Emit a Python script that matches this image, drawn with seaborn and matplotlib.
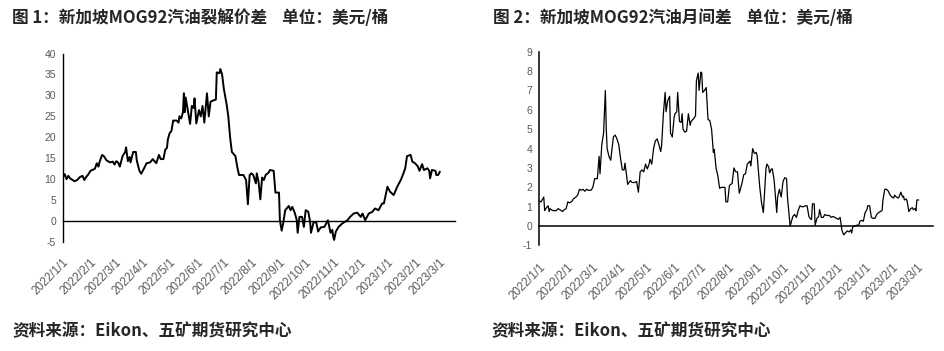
import matplotlib
matplotlib.use('Agg')
import matplotlib.pyplot as plt
import seaborn as sns
import pandas as pd

# ---------------- data ----------------
crack_dates = [
    '2022-01-01', '2022-01-03', '2022-01-05', '2022-01-07', '2022-01-09', '2022-01-14', '2022-01-17',
    '2022-01-20', '2022-01-23', '2022-01-25', '2022-01-27', '2022-01-29', '2022-02-01', '2022-02-06',
    '2022-02-08', '2022-02-10', '2022-02-11', '2022-02-14', '2022-02-16', '2022-02-19', '2022-02-23',
    '2022-02-26', '2022-02-28', '2022-03-02', '2022-03-04', '2022-03-06', '2022-03-09', '2022-03-12',
    '2022-03-13', '2022-03-15', '2022-03-17', '2022-03-18', '2022-03-21', '2022-03-24', '2022-03-25',
    '2022-03-28', '2022-03-30', '2022-04-02', '2022-04-05', '2022-04-09', '2022-04-12', '2022-04-16',
    '2022-04-19', '2022-04-21', '2022-04-24', '2022-04-26', '2022-04-28', '2022-04-29', '2022-05-01',
    '2022-05-03', '2022-05-05', '2022-05-09', '2022-05-11', '2022-05-12', '2022-05-14', '2022-05-16',
    '2022-05-17', '2022-05-18', '2022-05-19', '2022-05-21', '2022-05-24', '2022-05-26', '2022-05-28',
    '2022-05-29', '2022-05-31', '2022-06-03', '2022-06-05', '2022-06-07', '2022-06-09', '2022-06-11',
    '2022-06-12', '2022-06-14', '2022-06-16', '2022-06-19', '2022-06-22', '2022-06-23', '2022-06-26',
    '2022-06-27', '2022-06-29', '2022-07-01', '2022-07-04', '2022-07-06', '2022-07-08', '2022-07-10',
    '2022-07-14', '2022-07-16', '2022-07-18', '2022-07-23', '2022-07-26', '2022-07-28', '2022-07-30',
    '2022-08-01', '2022-08-03', '2022-08-06', '2022-08-07', '2022-08-09', '2022-08-11', '2022-08-13',
    '2022-08-15', '2022-08-17', '2022-08-20', '2022-08-22', '2022-08-26', '2022-08-28', '2022-09-01',
    '2022-09-02', '2022-09-04', '2022-09-06', '2022-09-08', '2022-09-12', '2022-09-14', '2022-09-16',
    '2022-09-19', '2022-09-21', '2022-09-22', '2022-09-24', '2022-09-27', '2022-09-29', '2022-10-01',
    '2022-10-04', '2022-10-06', '2022-10-07', '2022-10-10', '2022-10-13', '2022-10-15', '2022-10-18',
    '2022-10-22', '2022-10-26', '2022-10-29', '2022-10-31', '2022-11-01', '2022-11-02', '2022-11-04',
    '2022-11-07', '2022-11-11', '2022-11-17', '2022-11-20', '2022-11-24', '2022-11-28', '2022-12-02',
    '2022-12-04', '2022-12-07', '2022-12-11', '2022-12-15', '2022-12-18', '2022-12-22', '2022-12-26',
    '2022-12-28', '2023-01-01', '2023-01-04', '2023-01-08', '2023-01-12', '2023-01-16', '2023-01-19',
    '2023-01-21', '2023-01-23', '2023-01-27', '2023-01-29', '2023-02-01', '2023-02-04', '2023-02-06',
    '2023-02-09', '2023-02-11', '2023-02-15', '2023-02-17', '2023-02-18', '2023-02-20', '2023-02-24',
    '2023-02-25', '2023-02-27', '2023-03-01',
]
crack_values = [
    10.5, 11.2, 10.0, 10.8, 10.2, 9.5, 9.8,
    10.5, 10.8, 9.8, 10.5, 11.0, 12.0, 12.5,
    13.8, 13.0, 14.0, 15.8, 15.5, 14.5, 14.0,
    14.2, 13.5, 14.3, 14.0, 13.0, 15.5, 16.5,
    17.6, 14.3, 15.3, 14.0, 16.5, 16.5, 14.5,
    12.0, 11.3, 12.5, 13.8, 14.0, 14.8, 13.8,
    15.8, 14.8, 14.8, 17.0, 17.5, 19.5, 21.0,
    21.5, 24.0, 24.0, 23.5, 25.0, 24.5, 26.0,
    30.5, 26.0, 29.5, 27.0, 23.2, 27.5, 27.0,
    29.3, 23.3, 26.5, 25.0, 27.5, 23.5, 28.0,
    30.5, 25.0, 28.5, 28.8, 29.0, 35.5, 35.3,
    36.3, 35.0, 31.5, 28.0, 25.0, 20.0, 16.5,
    15.5, 13.0, 11.0, 11.0, 9.8, 4.0, 11.0,
    11.4, 11.0, 9.0, 11.4, 9.4, 5.2, 10.4,
    9.8, 11.0, 11.5, 12.2, 12.0, 6.8, 6.8,
    0.2, -2.3, -0.2, 2.6, 3.6, 2.6, 3.4,
    1.8, 0.2, -2.8, 1.0, 1.0, -1.4, 2.6,
    2.2, -0.2, -2.8, -0.2, -0.4, -2.5, -1.5,
    -1.4, 0.2, -2.8, -2.1, -3.7, -4.5, -2.5,
    -1.4, -0.6, 0.2, 1.0, 1.8, 2.0, 1.0,
    1.8, 0.2, 1.8, 2.2, 3.0, 2.6, 4.2,
    4.2, 8.2, 7.0, 6.2, 8.2, 9.8, 11.4,
    12.6, 15.5, 15.8, 14.2, 13.8, 13.1, 12.0,
    13.6, 12.2, 12.6, 12.0, 10.2, 12.2, 12.0,
    11.0, 11.0, 11.8,
]

spread_dates = [
    '2022-01-01', '2022-01-03', '2022-01-06', '2022-01-07', '2022-01-09', '2022-01-11', '2022-01-12',
    '2022-01-13', '2022-01-16', '2022-01-20', '2022-01-22', '2022-01-24', '2022-01-27', '2022-01-29',
    '2022-01-31', '2022-02-02', '2022-02-04', '2022-02-07', '2022-02-08', '2022-02-11', '2022-02-13',
    '2022-02-15', '2022-02-17', '2022-02-19', '2022-02-21', '2022-02-23', '2022-02-25', '2022-02-28',
    '2022-03-02', '2022-03-04', '2022-03-07', '2022-03-09', '2022-03-10', '2022-03-12', '2022-03-14',
    '2022-03-16', '2022-03-17', '2022-03-18', '2022-03-20', '2022-03-22', '2022-03-25', '2022-03-27',
    '2022-03-29', '2022-03-31', '2022-04-02', '2022-04-04', '2022-04-06', '2022-04-07', '2022-04-08',
    '2022-04-10', '2022-04-13', '2022-04-15', '2022-04-18', '2022-04-20', '2022-04-22', '2022-04-24',
    '2022-04-26', '2022-04-28', '2022-04-30', '2022-05-02', '2022-05-04', '2022-05-05', '2022-05-07',
    '2022-05-09', '2022-05-11', '2022-05-13', '2022-05-15', '2022-05-17', '2022-05-18', '2022-05-20',
    '2022-05-22', '2022-05-23', '2022-05-25', '2022-05-27', '2022-05-28', '2022-05-30', '2022-06-01',
    '2022-06-02', '2022-06-04', '2022-06-05', '2022-06-07', '2022-06-09', '2022-06-10', '2022-06-11',
    '2022-06-13', '2022-06-15', '2022-06-17', '2022-06-19', '2022-06-20', '2022-06-23', '2022-06-25',
    '2022-06-26', '2022-06-28', '2022-06-29', '2022-07-01', '2022-07-02', '2022-07-03', '2022-07-05',
    '2022-07-07', '2022-07-09', '2022-07-11', '2022-07-13', '2022-07-15', '2022-07-16', '2022-07-18',
    '2022-07-20', '2022-07-22', '2022-07-24', '2022-07-28', '2022-07-29', '2022-07-31', '2022-08-02',
    '2022-08-05', '2022-08-07', '2022-08-09', '2022-08-11', '2022-08-13', '2022-08-16', '2022-08-18',
    '2022-08-20', '2022-08-22', '2022-08-25', '2022-08-26', '2022-08-28', '2022-08-30', '2022-09-01',
    '2022-09-02', '2022-09-05', '2022-09-07', '2022-09-09', '2022-09-12', '2022-09-13', '2022-09-15',
    '2022-09-16', '2022-09-18', '2022-09-19', '2022-09-21', '2022-09-24', '2022-09-25', '2022-09-27',
    '2022-09-29', '2022-10-01', '2022-10-03', '2022-10-05', '2022-10-06', '2022-10-09', '2022-10-12',
    '2022-10-14', '2022-10-16', '2022-10-18', '2022-10-20', '2022-10-22', '2022-10-24', '2022-10-26',
    '2022-10-28', '2022-10-30', '2022-11-01', '2022-11-02', '2022-11-03', '2022-11-05', '2022-11-06',
    '2022-11-08', '2022-11-10', '2022-11-11', '2022-11-13', '2022-11-15', '2022-11-17', '2022-11-19',
    '2022-11-20', '2022-11-22', '2022-11-24', '2022-11-26', '2022-11-28', '2022-11-30', '2022-12-02',
    '2022-12-04', '2022-12-06', '2022-12-08', '2022-12-10', '2022-12-12', '2022-12-14', '2022-12-16',
    '2022-12-17', '2022-12-18', '2022-12-20', '2022-12-23', '2022-12-25', '2022-12-26', '2022-12-28',
    '2022-12-30', '2023-01-01', '2023-01-03', '2023-01-04', '2023-01-06', '2023-01-08', '2023-01-10',
    '2023-01-12', '2023-01-14', '2023-01-16', '2023-01-18', '2023-01-20', '2023-01-21', '2023-01-23',
    '2023-01-25', '2023-01-27', '2023-01-29', '2023-01-31', '2023-02-02', '2023-02-03', '2023-02-05',
    '2023-02-07', '2023-02-08', '2023-02-10', '2023-02-12', '2023-02-13', '2023-02-14', '2023-02-16',
    '2023-02-17', '2023-02-19', '2023-02-21', '2023-02-23', '2023-02-24', '2023-02-26', '2023-02-27',
    '2023-02-28', '2023-03-02',
]
spread_values = [
    1.3, 1.25, 1.5, 0.8, 0.95, 1.05, 0.75,
    0.9, 0.8, 0.8, 0.9, 0.85, 0.75, 0.85,
    0.9, 1.25, 1.2, 1.3, 1.4, 1.5, 1.6,
    1.9, 1.85, 1.9, 1.8, 1.9, 1.85, 1.85,
    2.0, 2.45, 2.45, 3.6, 2.7, 4.2, 4.8,
    7.0, 5.0, 4.0, 3.6, 3.4, 4.6, 4.7,
    4.5, 4.2, 3.5, 2.9, 2.9, 3.25, 2.9,
    2.15, 2.35, 2.25, 2.25, 2.3, 1.75, 2.8,
    2.9, 2.8, 3.2, 2.95, 3.2, 3.45, 3.2,
    4.0, 4.4, 4.5, 4.2, 3.85, 4.15, 5.8,
    6.9, 5.9, 6.5, 6.7, 4.8, 4.6, 5.6,
    5.8, 5.9, 6.9, 5.4, 5.35, 5.8, 5.0,
    4.85, 4.9, 5.8, 5.2, 5.4, 5.55, 5.7,
    7.5, 7.9, 7.0, 7.95, 7.9, 6.9, 7.0,
    7.15, 5.5, 5.45, 5.0, 3.8, 3.95, 3.0,
    2.6, 1.95, 2.0, 2.0, 1.25, 1.25, 2.1,
    2.2, 3.0, 2.8, 2.8, 1.7, 2.2, 2.65,
    2.7, 3.2, 3.35, 3.1, 4.0, 3.75, 3.8,
    3.65, 2.0, 1.2, 0.7, 3.0, 3.2, 3.05,
    2.75, 2.95, 2.95, 2.4, 0.7, 1.5, 1.9,
    1.5, 2.3, 2.5, 2.45, 1.5, 0.0, 0.5,
    0.6, 0.45, 0.8, 1.05, 1.0, 1.0, 1.05,
    1.05, 0.5, 0.35, 0.35, 1.15, 1.15, 0.05,
    0.4, 0.5, 0.85, 0.45, 0.45, 0.6, 0.55,
    0.55, 0.55, 0.45, 0.5, 0.45, 0.4, 0.35,
    0.45, -0.2, -0.45, -0.35, -0.25, -0.3, -0.2,
    -0.35, -0.05, 0.0, 0.05, 0.05, 0.25, 0.3,
    0.25, 0.7, 0.85, 1.05, 1.05, 0.45, 0.4,
    0.4, 0.6, 0.7, 0.75, 0.8, 1.35, 1.9,
    1.9, 1.8, 1.6, 1.5, 1.45, 1.6, 1.5,
    1.45, 1.5, 1.75, 1.5, 1.55, 1.35, 1.4,
    1.3, 0.75, 0.9, 0.95, 0.85, 0.9, 0.8,
    1.35, 1.35,
]

tick_labels = ['2022/1/1', '2022/2/1', '2022/3/1', '2022/4/1', '2022/5/1', '2022/6/1', '2022/7/1',
               '2022/8/1', '2022/9/1', '2022/10/1', '2022/11/1', '2022/12/1', '2023/1/1', '2023/2/1',
               '2023/3/1']
crack_yticks = [-5, 0, 5, 10, 15, 20, 25, 30, 35, 40]
spread_yticks = [-1, 0, 1, 2, 3, 4, 5, 6, 7, 8, 9]

title1 = '图 1：新加坡MOG92汽油裂解价差    单位：美元/桶'
title2 = '图 2：新加坡MOG92汽油月间差    单位：美元/桶'
source = '资料来源：Eikon、五矿期货研究中心'

# ---------------- style ----------------
sns.set_style('white')
plt.rcParams['font.family'] = ['Liberation Sans', 'Noto Sans CJK SC', 'DejaVu Sans']

fig = plt.figure(figsize=(9.44, 3.51), dpi=100)
ax1 = fig.add_axes([0.0667, 0.3105, 0.4153, 0.537])
ax2 = fig.add_axes([0.5713, 0.3006, 0.417, 0.5521])

df1 = pd.DataFrame({'date': pd.to_datetime(crack_dates), 'value': crack_values})
df2 = pd.DataFrame({'date': pd.to_datetime(spread_dates), 'value': spread_values})

sns.lineplot(data=df1, x='date', y='value', ax=ax1, color='black', linewidth=1.4)
sns.lineplot(data=df2, x='date', y='value', ax=ax2, color='black', linewidth=0.9)

tick_pos = pd.to_datetime(tick_labels, format='%Y/%m/%d')
for ax, yticks, lw in [(ax1, crack_yticks, 1.0), (ax2, spread_yticks, 1.1)]:
    ax.set_xlim(pd.Timestamp('2022-01-01'), pd.Timestamp('2023-03-18'))
    ax.set_ylim(yticks[0], yticks[-1])
    ax.set_yticks(yticks)
    ax.set_yticklabels([str(t) for t in yticks])
    ax.set_xticks(tick_pos)
    ax.set_xticklabels(tick_labels)
    ax.set_xlabel('')
    ax.set_ylabel('')
    ax.spines['top'].set_visible(False)
    ax.spines['right'].set_visible(False)
    ax.spines['bottom'].set_position(('data', 0))
    for s in ('left', 'bottom'):
        ax.spines[s].set_color('black')
        ax.spines[s].set_linewidth(lw)
    ax.tick_params(axis='x', direction='out', length=3.5, width=lw, color='black',
                   labelcolor='#595959', labelsize=8.5, pad=22, labelrotation=45)
    ax.tick_params(axis='y', direction='out', length=3, width=lw, color='black',
                   labelcolor='#595959', labelsize=7.5, pad=2)
    for lab in ax.get_xticklabels():
        lab.set_horizontalalignment('right')
        lab.set_rotation_mode('anchor')
    ax.grid(False)

cjk = ['Noto Sans CJK SC', 'DejaVu Sans']
fig.text(0.0127, 0.950, title1, fontsize=12, fontweight='bold', family=cjk, va='center', ha='left')
fig.text(0.522, 0.950, title2, fontsize=12, fontweight='bold', family=cjk, va='center', ha='left')
fig.text(0.0127, 0.056, source, fontsize=12, fontweight='bold', family=cjk, va='center', ha='left')
fig.text(0.521, 0.056, source, fontsize=12, fontweight='bold', family=cjk, va='center', ha='left')

fig.savefig('out.png', dpi=100)
